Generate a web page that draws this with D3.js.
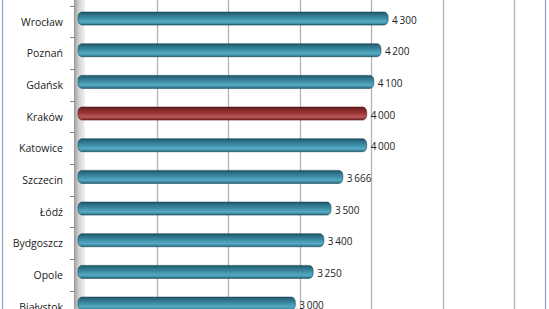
<!DOCTYPE html>
<html lang="pl">
<head>
<meta charset="utf-8">
<title>Chart</title>
<script src="https://cdn.jsdelivr.net/npm/d3@7"></script>
<style>
  body { margin: 0; background: #fff; }
  svg { display: block; font-family: "Open Sans", sans-serif; }
</style>
</head>
<body>
<div id="chart"></div>
<script>
// data
var cities = ["Wrocław", "Poznań", "Gdańsk", "Kraków", "Katowice", "Szczecin", "Łódź", "Bydgoszcz", "Opole", "Białystok"];
var values = [4300, 4200, 4100, 4000, 4000, 3666, 3500, 3400, 3250, 3000];
var highlight = "Kraków";
var gridTicks = [0, 1000, 2000, 3000, 4000, 5000, 6000];

var width = 549, height = 309;
var depth = 4.5;      // 3D offset of bars vs back wall
var barStart = 78;

var data = cities.map(function(c, i) { return {city: c, value: values[i]}; });

var x = d3.scaleLinear().domain([0, 6000]).range([85.6, 514]);
var y = d3.scaleBand().domain(cities).range([5.7, 5.7 + 31.67 * cities.length]);

var svg = d3.select("#chart").append("svg")
    .attr("width", width)
    .attr("height", height);

var defs = svg.append("defs");

function barGradient(id, stops) {
  var g = defs.append("linearGradient").attr("id", id)
      .attr("x1", 0).attr("y1", 0).attr("x2", 0).attr("y2", 1);
  stops.forEach(function(s) {
    g.append("stop").attr("offset", s[0]).attr("stop-color", s[1]);
  });
}
barGradient("teal", [[0, "#1d4f60"], [0.15, "#2a6b80"], [0.45, "#3b8aa2"], [0.75, "#57aac3"], [0.9, "#3d8ba3"], [1, "#1f5566"]]);
barGradient("red", [[0, "#5a1a1a"], [0.15, "#7a2626"], [0.45, "#993333"], [0.75, "#b85a5a"], [0.9, "#9a3a3a"], [1, "#5e1e1e"]]);

var wall = defs.append("linearGradient").attr("id", "wall")
    .attr("x1", 0).attr("y1", 0).attr("x2", 1).attr("y2", 0);
wall.append("stop").attr("offset", 0).attr("stop-color", "#a8a8a8");
wall.append("stop").attr("offset", 0.4).attr("stop-color", "#d4d4d4");
wall.append("stop").attr("offset", 1).attr("stop-color", "#f2f2f2");

// chart area border (only sides visible)
svg.append("rect")
    .attr("x", 2.5).attr("y", -10)
    .attr("width", 543).attr("height", height + 20)
    .attr("fill", "#fff")
    .attr("stroke", "#8ea3bf")
    .attr("stroke-width", 1.2);

// gridlines
svg.selectAll(".grid")
    .data(gridTicks.slice(1))
  .enter().append("line")
    .attr("class", "grid")
    .attr("x1", function(d) { return Math.round(x(d)) + 0.5; })
    .attr("x2", function(d) { return Math.round(x(d)) + 0.5; })
    .attr("y1", 0).attr("y2", height)
    .attr("stroke", "#b4b4b4")
    .attr("stroke-width", 1.3);

// side wall
svg.append("rect")
    .attr("x", 75).attr("y", 0)
    .attr("width", 10).attr("height", height)
    .attr("fill", "url(#wall)");

// axis line and ticks
svg.append("line")
    .attr("x1", 74.5).attr("x2", 74.5)
    .attr("y1", 0).attr("y2", height)
    .attr("stroke", "#9a9a9a");

var bounds = cities.map(function(c) { return y(c); });
svg.selectAll(".tick")
    .data(bounds)
  .enter().append("line")
    .attr("class", "tick")
    .attr("x1", 70).attr("x2", 75)
    .attr("y1", function(d) { return Math.round(d) + 0.5; })
    .attr("y2", function(d) { return Math.round(d) + 0.5; })
    .attr("stroke", "#8a8a8a");

// bars
var barH = 13;
function mid(d) { return y(d.city) + y.bandwidth() / 2; }
function cy(d) { return mid(d) - 3; }

svg.selectAll(".bar")
    .data(data)
  .enter().append("rect")
    .attr("class", "bar")
    .attr("x", barStart)
    .attr("y", function(d) { return cy(d) - barH / 2; })
    .attr("width", function(d) { return x(d.value) - depth - barStart; })
    .attr("height", barH)
    .attr("rx", 4).attr("ry", 5)
    .attr("fill", function(d) { return d.city === highlight ? "url(#red)" : "url(#teal)"; })
    .attr("stroke", function(d) { return d.city === highlight ? "#5a1a1a" : "#1d4f60"; })
    .attr("stroke-width", 0.6);

// category labels
svg.selectAll(".cat")
    .data(data)
  .enter().append("text")
    .attr("class", "cat")
    .attr("x", 63)
    .attr("y", function(d) { return mid(d) + 0.5; })
    .attr("dy", "0.35em")
    .attr("text-anchor", "end")
    .attr("font-size", 10.5)
    .attr("fill", "#222")
    .text(function(d) { return d.city; });

// value labels
var fmt = d3.formatLocale({decimal: ",", thousands: "\u2009", grouping: [3], currency: ["", " zł"]}).format(",d");
svg.selectAll(".val")
    .data(data)
  .enter().append("text")
    .attr("class", "val")
    .attr("x", function(d) { return x(d.value) - depth + 4; })
    .attr("y", function(d) { return cy(d) + 1.5; })
    .attr("dy", "0.35em")
    .attr("font-size", 10)
    .attr("fill", "#222")
    .text(function(d) { return fmt(d.value); });
</script>
</body>
</html>
